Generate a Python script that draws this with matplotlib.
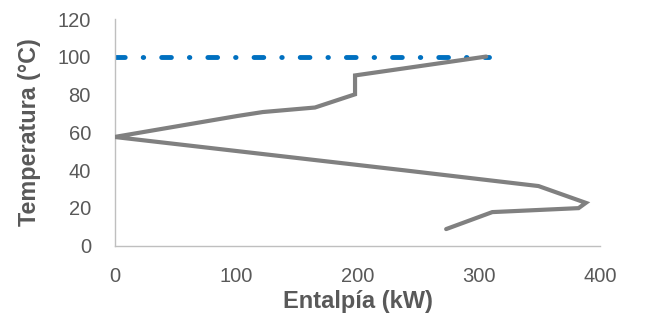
import matplotlib
matplotlib.use("Agg")
import matplotlib.pyplot as plt

# Grand composite curve (enthalpy kW, temperature °C)
enthalpy = [273, 311, 382, 388, 349, 239, 0, 101, 122, 165, 198, 198, 306]
temperature = [8.8, 17.8, 19.9, 22.7, 31.6, 39.9, 57.6, 68.7, 70.8, 73.2, 80.2, 90.2, 100.2]

# Utility line
util_x = [0, 308]
util_y = [100, 100]

xticks = [0, 100, 200, 300, 400]
yticks = [0, 20, 40, 60, 80, 100, 120]

plt.rcParams['font.family'] = ['Liberation Sans', 'DejaVu Sans']

fig = plt.figure(figsize=(6.47, 3.25), dpi=100)
ax = fig.add_axes([0.177, 0.244, 0.751, 0.697])

ax.plot(enthalpy, temperature, color='#808080', lw=3.0, solid_capstyle='round',
        solid_joinstyle='miter', zorder=3)
ax.plot(util_x, util_y, color='#0070C0', lw=3.5, linestyle=(0, (2.0, 3.7, 0.1, 3.7)),
        dash_capstyle='round', zorder=2)

ax.set_xlim(0, 400)
ax.set_ylim(0, 120)
ax.set_xticks(xticks)
ax.set_yticks(yticks)

for s in ['top', 'right']:
    ax.spines[s].set_visible(False)
for s in ['left', 'bottom']:
    ax.spines[s].set_color('#BFBFBF')
    ax.spines[s].set_linewidth(1.0)

ax.tick_params(axis='both', length=0, labelsize=14.5, labelcolor='#595959')
ax.tick_params(axis='y', pad=17)
ax.tick_params(axis='x', pad=15)

ax.set_xlabel('Entalpía (kW)', fontsize=17, fontweight='bold', color='#595959', labelpad=3)
ax.set_ylabel('Temperatura (°C)', fontsize=16.8, fontweight='bold', color='#595959', labelpad=12)

fig.savefig('out.png', dpi=100)
